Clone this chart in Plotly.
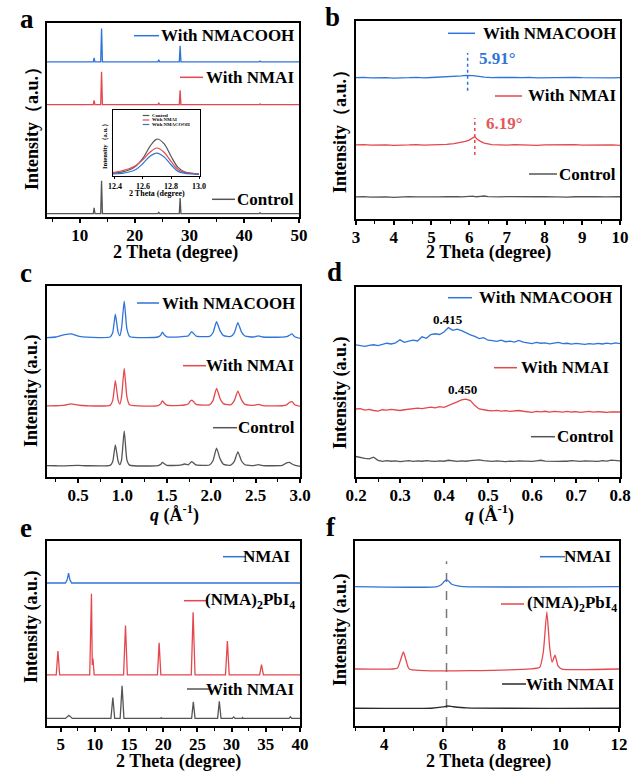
import plotly.graph_objects as go

W, H = 644, 773
SERIF = "Liberation Serif"
BLUE = "#2f74d9"
RED = "#e5474d"
GRAY = "#555555"
BLACK = "#2a2a2a"

# ---------------- panel a : XRD 4-50 deg ----------------
a_x = [4, 12.45, 12.6, 12.75, 13.8, 13.96, 14.12, 24.25, 24.4, 24.55, 28.15, 28.3, 28.45, 42.75, 42.9, 43.05, 50]
a_control = [1.7, 1.7, 4.7, 1.7, 1.7, 18.7, 1.7, 1.7, 2.6, 1.7, 1.7, 9.8, 1.7, 1.7, 2.2, 1.7, 1.7]
a_nmai = [57.9, 57.9, 60.1, 57.9, 57.9, 74.8, 57.9, 57.9, 58.9, 57.9, 57.9, 65.3, 57.9, 57.9, 58.3, 57.9, 57.9]
a_nmacooh = [80, 80, 82, 80, 80, 97.2, 80, 80, 81, 80, 80, 88.3, 80, 80, 80.4, 80, 80]

# inset of panel a
inset_x = [12.38, 12.45, 12.5, 12.55, 12.6, 12.65, 12.7, 12.75, 12.8, 12.85, 12.9, 12.95, 13.0]
inset_control = [4, 6, 9, 15, 27, 45, 56, 49, 30, 13, 6, 4, 3]
inset_nmai = [5, 8, 11, 16, 25, 36, 42.4, 36, 22, 10, 5, 4, 3]
inset_nmacooh = [3, 4, 6, 10, 19, 30, 34.8, 29, 17, 7, 4, 3, 2.5]

# ---------------- panel b : XRD 3-10 deg ----------------
b_x = [3.0, 3.2, 3.4, 3.6, 3.8, 4.0, 4.2, 4.4, 4.6, 4.8,
       5.0, 5.2, 5.4, 5.6, 5.7, 5.8, 5.9, 6.0, 6.1, 6.15,
       6.2, 6.3, 6.4, 6.5, 6.6, 6.8, 7.0, 7.2, 7.4, 7.6,
       7.8, 8.0, 8.2, 8.4, 8.6, 8.8, 9.0, 9.2, 9.4, 9.6,
       9.8, 10.0]
b_nmacooh = [75.3, 75.5, 75.2, 75.4, 75.3, 75.1, 75.4, 75.3, 75.5, 75.2,
             75.4, 75.6, 75.5, 75.8, 76.0, 76.3, 76.5, 76.6, 76.4, 76.3,
             76.1, 75.8, 75.6, 75.5, 75.3, 75.4, 75.2, 75.4, 75.3, 75.5,
             75.2, 75.3, 75.4, 75.2, 75.3, 75.5, 75.3, 75.2, 75.4, 75.3,
             75.2, 75.3]
b_nmai = [39.7, 39.9, 39.6, 39.8, 39.7, 39.5, 39.8, 39.7, 39.9, 39.6,
          39.8, 39.8, 40.0, 40.4, 40.7, 41.1, 41.6, 42.3, 43.3, 44.1,
          43.0, 41.6, 40.7, 40.2, 39.9, 39.8, 39.6, 39.9, 39.7, 39.8,
          39.5, 39.7, 39.8, 39.6, 39.7, 39.9, 39.6, 39.7, 39.8, 39.6,
          39.7, 39.5]
b_control = [12.2, 12.4, 12.1, 12.3, 12.2, 12.0, 12.3, 12.4, 12.2, 12.1,
             12.3, 12.2, 12.4, 12.5, 12.3, 12.2, 12.4, 12.3, 12.6, 12.4,
             12.3, 12.5, 12.7, 12.4, 12.3, 12.2, 12.4, 12.3, 12.5, 12.2,
             12.3, 12.4, 12.2, 12.3, 12.1, 12.3, 12.4, 12.2, 12.3, 12.2,
             12.4, 12.3]
b_mark_x = [5.96, 6.15]
b_mark_lo = [68.4, 34.4]
b_mark_hi = [88.4, 54.0]
b_mark_text = ["5.91°", "6.19°"]

# ---------------- panel c : GIWAXS q 0.15-3.0 ----------------
c_x = [0.15, 0.25, 0.35, 0.42, 0.5, 0.6, 0.86, 0.89, 0.92, 0.95,
       0.97, 0.99, 1.02, 1.05, 1.08, 1.4, 1.43, 1.45, 1.47, 1.5,
       1.65, 1.7, 1.74, 1.76, 1.78, 1.80, 1.83, 1.98, 2.02, 2.06,
       2.10, 2.14, 2.22, 2.26, 2.30, 2.34, 2.38, 2.48, 2.53, 2.58,
       2.8, 2.85, 2.88, 2.91, 2.94, 3.0]
c_nmacooh = [73.0, 73.3, 74.5, 74.9, 73.8, 73.2, 73.3, 75.5, 85.2, 76.0,
             74.0, 78.0, 92.1, 77.5, 73.6, 73.3, 74.2, 75.8, 74.5, 73.4,
             73.4, 73.6, 73.8, 75.0, 76.1, 75.2, 73.8, 73.6, 75.5, 81.3,
             76.5, 74.0, 73.6, 75.5, 80.8, 76.0, 73.8, 73.3, 73.9, 73.3,
             73.2, 73.5, 74.2, 74.9, 73.4, 72.6]
c_nmai = [37.2, 37.3, 37.6, 38.3, 37.6, 37.3, 37.5, 40.0, 50.4, 40.5,
          38.2, 42.0, 56.9, 42.0, 37.8, 37.4, 38.3, 39.8, 38.8, 37.6,
          37.5, 37.7, 38.2, 39.5, 40.3, 39.5, 38.0, 37.8, 40.0, 46.4,
          41.0, 38.3, 37.8, 40.0, 45.0, 40.5, 38.0, 37.5, 38.0, 37.4,
          37.3, 37.8, 39.0, 39.5, 37.8, 37.0]
c_control = [6.0, 5.9, 5.8, 6.0, 6.1, 5.9, 6.1, 8.0, 16.8, 8.5,
             6.5, 9.0, 24.2, 9.0, 6.2, 6.0, 6.6, 7.6, 7.0, 6.1,
             6.2, 6.8, 6.4, 7.2, 8.0, 7.4, 6.3, 6.3, 8.5, 15.1,
             9.5, 6.6, 6.2, 8.2, 13.2, 8.5, 6.4, 6.0, 6.5, 6.0,
             6.1, 7.4, 7.6, 6.8, 6.2, 5.5]

# ---------------- panel d : low q 0.2-0.8 ----------------
d_x = [0.20, 0.21, 0.22, 0.23, 0.24, 0.25, 0.26, 0.27, 0.28, 0.29,
       0.30, 0.31, 0.32, 0.33, 0.34, 0.35, 0.36, 0.37, 0.38, 0.39,
       0.40, 0.41, 0.42, 0.43, 0.44, 0.45, 0.46, 0.47, 0.48, 0.49,
       0.50, 0.51, 0.52, 0.53, 0.54, 0.55, 0.56, 0.57, 0.58, 0.59,
       0.60, 0.61, 0.62, 0.63, 0.64, 0.65, 0.66, 0.67, 0.68, 0.69,
       0.70, 0.71, 0.72, 0.73, 0.74, 0.75, 0.76, 0.77, 0.78, 0.79,
       0.80]
d_nmacooh = [69.5, 69.0, 68.8, 69.3, 69.6, 69.2, 69.8, 70.4, 70.0, 70.6,
             72.2, 70.9, 71.5, 72.0, 71.6, 73.8, 73.0, 75.0, 75.4, 75.0,
             76.3, 78.6, 77.2, 77.8, 77.0, 75.8, 74.8, 74.0, 72.8, 73.3,
             72.0, 71.8, 71.4, 72.0, 71.2, 71.5, 71.0, 71.9, 71.0, 70.6,
             70.2, 70.8, 70.4, 70.6, 70.1, 70.5, 70.8, 70.2, 70.4, 69.9,
             70.3, 70.1, 69.8, 70.2, 69.9, 70.3, 70.0, 70.5, 70.1, 70.6,
             70.2]
d_nmai = [35.8, 36.0, 35.2, 35.6, 35.0, 34.7, 35.4, 35.2, 35.6, 35.3,
          35.0, 35.4, 35.6, 35.9, 36.2, 36.0, 36.5, 36.8, 36.4, 37.0,
          36.7, 37.6, 38.3, 39.5, 40.6, 41.0, 40.2, 37.6, 35.8, 35.2,
          35.0, 34.8, 35.1, 34.7, 34.9, 34.5, 34.8, 35.0, 34.6, 34.3,
          34.0, 34.5, 34.3, 34.6, 34.2, 34.5, 34.4, 34.1, 34.5, 34.2,
          34.4, 34.0, 34.3, 34.5, 34.1, 34.4, 34.2, 34.0, 34.3, 34.1,
          34.2]
d_control = [10.8, 10.2, 9.8, 9.5, 10.4, 8.8, 8.2, 8.6, 8.3, 8.5,
             8.1, 8.4, 8.6, 8.2, 8.5, 8.3, 8.6, 8.4, 8.2, 8.5,
             8.3, 8.8, 8.4, 8.2, 8.5, 8.3, 8.6, 8.7, 9.0, 8.6,
             8.4, 8.2, 8.5, 8.3, 8.1, 8.4, 8.2, 8.5, 8.3, 8.4,
             8.2, 8.5, 8.8, 8.4, 8.3, 8.5, 8.2, 8.4, 8.3, 8.6,
             8.4, 8.2, 8.5, 8.3, 8.4, 8.2, 8.6, 8.4, 8.9, 8.6,
             8.5]
d_peak_q = [0.415, 0.450]

# ---------------- panel e : XRD 3-40 deg ----------------
e_nmai_x = [3, 5.7, 5.95, 6.15, 6.35, 6.6, 40]
e_nmai_y = [77.3, 77.3, 79.0, 82.6, 79.0, 77.3, 77.3]
e_pbi_x = [3, 4.35, 4.6, 4.85, 9.25, 9.5, 9.62, 9.72, 9.9, 14.2, 14.48, 14.75, 19.15, 19.4, 19.65,
           24.1, 24.37, 24.65, 29.1, 29.38, 29.65, 34.1, 34.37, 34.65, 40]
e_pbi_y = [27.6, 27.6, 40.5, 27.6, 27.6, 71.5, 33.0, 36.4, 27.6, 27.6, 54.3, 27.6, 27.6, 45.0, 27.6,
           27.6, 61.5, 27.6, 27.6, 45.9, 27.6, 27.6, 33.2, 27.6, 27.6]
e_film_x = [3, 5.7, 6.2, 6.7, 12.35, 12.63, 12.9, 13.7, 13.98, 14.25, 19.6, 19.7, 19.8, 24.15, 24.4, 24.65,
            27.95, 28.2, 28.45, 30.1, 30.3, 30.5, 31.5, 31.6, 31.7, 35.0, 35.1, 35.2, 38.4, 38.6, 38.8, 40]
e_film_y = [4.1, 4.1, 5.8, 4.1, 4.1, 15.4, 4.1, 4.1, 21.7, 4.1, 4.1, 4.5, 4.1, 4.1, 13.1, 4.1,
            4.1, 13.3, 4.1, 4.1, 4.9, 4.1, 4.1, 4.6, 4.1, 4.1, 4.5, 4.1, 4.1, 5.0, 4.1, 4.1]

# ---------------- panel f : XRD 3-12 deg ----------------
f_nmai_x = [3, 5.8, 5.95, 6.05, 6.12, 6.2, 6.3, 6.5, 6.7, 12]
f_nmai_y = [75.3, 75.4, 76.5, 78.3, 79.0, 78.2, 76.6, 75.7, 75.3, 75.3]
f_pbi_x = [3, 4.3, 4.45, 4.55, 4.65, 4.75, 4.85, 9.0, 9.3, 9.42, 9.54, 9.64, 9.72, 9.82, 9.92, 10.05, 12]
f_pbi_y = [30.8, 30.8, 31.3, 35.5, 40.0, 35.0, 30.8, 30.9, 31.8, 40.0, 61.7, 42.0, 34.5, 38.3, 32.5, 30.8, 30.8]
f_film_x = [3, 5.6, 6.0, 6.15, 6.35, 6.8, 12]
f_film_y = [9.6, 9.6, 10.3, 10.8, 10.4, 9.8, 9.6]
f_ref_x = 6.12

# =====================================================================
def px(x):
    return x / W


def py(y):
    return 1 - y / H


fig = go.Figure()


def add_line(x, y, ax, color, width=1.3, shape="linear", smoothing=1.0):
    n = "" if ax == 1 else str(ax)
    fig.add_trace(go.Scatter(x=x, y=y, xaxis="x" + n, yaxis="y" + n, mode="lines",
                             line=dict(color=color, width=width, shape=shape, smoothing=smoothing),
                             showlegend=False, hoverinfo="skip"))


add_line(a_x, a_control, 1, GRAY)
add_line(a_x, a_nmai, 1, RED)
add_line(a_x, a_nmacooh, 1, BLUE)

add_line(b_x, b_control, 2, GRAY)
add_line(b_x, b_nmai, 2, RED)
add_line(b_x, b_nmacooh, 2, BLUE)
for xm, lo, hi, col in zip(b_mark_x, b_mark_lo, b_mark_hi, [BLUE, RED]):
    fig.add_trace(go.Scatter(x=[xm, xm], y=[lo, hi], xaxis="x2", yaxis="y2", mode="lines",
                             line=dict(color=col, width=1.5, dash="dot"), showlegend=False,
                             hoverinfo="skip"))

add_line(c_x, c_control, 3, GRAY, shape="spline", smoothing=0.5)
add_line(c_x, c_nmai, 3, RED, shape="spline", smoothing=0.5)
add_line(c_x, c_nmacooh, 3, BLUE, shape="spline", smoothing=0.5)

add_line(d_x, d_control, 4, GRAY)
add_line(d_x, d_nmai, 4, RED)
add_line(d_x, d_nmacooh, 4, BLUE)

add_line(e_film_x, e_film_y, 5, GRAY)
add_line(e_pbi_x, e_pbi_y, 5, RED)
add_line(e_nmai_x, e_nmai_y, 5, BLUE)

fig.add_trace(go.Scatter(x=[f_ref_x, f_ref_x], y=[0, 89], xaxis="x6", yaxis="y6", mode="lines",
                         line=dict(color="#777777", width=1.5, dash="dash"), showlegend=False,
                         hoverinfo="skip"))
add_line(f_film_x, f_film_y, 6, BLACK, shape="spline", smoothing=0.6)
add_line(f_pbi_x, f_pbi_y, 6, RED, shape="spline", smoothing=0.5)
add_line(f_nmai_x, f_nmai_y, 6, BLUE, shape="spline", smoothing=0.6)

add_line(inset_x, inset_control, 7, GRAY, width=1.2, shape="spline")
add_line(inset_x, inset_nmai, 7, RED, width=1.2, shape="spline")
add_line(inset_x, inset_nmacooh, 7, BLUE, width=1.2, shape="spline")

# ---------------- axes ----------------
boxes = {
    1: (47, 299, 23, 217),
    2: (356, 620, 21, 219),
    3: (47, 300, 286, 477),
    4: (356, 620, 287, 477),
    5: (47, 300, 541, 726),
    6: (355, 619, 541, 726),
    7: (113, 200, 110, 176),
}
yranges = {1: [0, 100], 2: [0.53, 105.3], 3: [0, 100], 4: [0, 100], 5: [0, 100], 6: [0, 100],
           7: [0, 100]}
xspec = {
    1: dict(range=[4, 50], dtick=10, tick0=0, minor=5, fmt=""),
    2: dict(range=[3, 10], dtick=1, tick0=0, minor=0.5, fmt=""),
    3: dict(range=[0.15, 3.0], dtick=0.5, tick0=0, minor=0.25, fmt=".1f"),
    4: dict(range=[0.2, 0.8], dtick=0.1, tick0=0, minor=0.05, fmt=".1f"),
    5: dict(range=[3, 40], dtick=5, tick0=0, minor=2.5, fmt=""),
    6: dict(range=[3, 12], dtick=2, tick0=0, minor=1, fmt=""),
    7: dict(range=[12.386, 13.007], dtick=0.2, tick0=12.4, minor=None, fmt=".1f"),
}
lay = {}
for k, (x0, x1, y0, y1) in boxes.items():
    n = "" if k == 1 else str(k)
    s = xspec[k]
    inset = (k == 7)
    xa = dict(domain=[px(x0), px(x1)], range=s["range"], anchor="y" + n, automargin=False,
              showline=True, linecolor="black", linewidth=1.0 if inset else 1.6, mirror=True,
              ticks="outside", ticklen=2 if inset else 4, tickwidth=1.0 if inset else 1.5,
              tickcolor="black", dtick=s["dtick"], tick0=s["tick0"], tickformat=s["fmt"],
              ticklabelstandoff=0 if inset else -2,
              showgrid=False, zeroline=False,
              tickfont=dict(family=SERIF, size=8 if inset else 17, color="black", weight="bold"))
    if s["minor"]:
        xa["minor"] = dict(ticks="outside", ticklen=3, tickwidth=1.2, dtick=s["minor"],
                           tickcolor="black", showgrid=False)
    ya = dict(domain=[py(y1), py(y0)], range=yranges[k], anchor="x" + n, automargin=False,
              showline=True, linecolor="black", linewidth=1.0 if inset else 1.6, mirror=True,
              ticks="", showticklabels=False, showgrid=False, zeroline=False)
    lay["xaxis" + n] = xa
    lay["yaxis" + n] = ya

fig.update_layout(**lay)

# ---------------- text ----------------
ann = []


def text(x, y, t, size, color="black", xanchor="center", angle=0, ref=None, yanchor="middle"):
    d = dict(text=t, showarrow=False, xanchor=xanchor, yanchor=yanchor, textangle=angle,
             font=dict(family=SERIF, size=size, color=color, weight="bold"))
    if ref is None:
        d.update(x=px(x), y=py(y), xref="paper", yref="paper")
    else:
        d.update(x=x, y=y, xref="x" + ref, yref="y" + ref)
    ann.append(d)


shapes = []


def seg(x0, x1, y, color, width=1.5):
    shapes.append(dict(type="line", xref="paper", yref="paper", x0=px(x0), x1=px(x1),
                       y0=py(y), y1=py(y), line=dict(color=color, width=width)))


# panel letters
for lab, x, y in [("a", 27, 19), ("b", 333, 17), ("c", 26, 273), ("d", 334, 272),
                  ("e", 26, 528), ("f", 331, 527)]:
    text(x, y, lab, 27)

# y titles
for t, x, y in [("Intensity（a.u.）", 32, 124), ("Intensity（a.u.）", 340, 127),
                ("Intensity (a.u.)", 32, 390), ("Intensity (a.u.)", 340, 393),
                ("Intensity (a.u.)", 31, 627), ("Intensity (a.u.)", 340, 630)]:
    text(x, y, t, 18, angle=-90)

# x titles
for t, x, y in [("2 Theta (degree)", 175, 253), ("2 Theta (degree)", 488, 253),
                ("<i>q</i> (Å<sup>-1</sup>)", 174, 514), ("<i>q</i> (Å<sup>-1</sup>)", 489, 514),
                ("2 Theta (degree)", 178, 761), ("2 Theta (degree)", 488, 761)]:
    text(x, y, t, 18)

# legends (line segment + label)
legends = [
    # panel a
    (134, 159, 296, 35.7, BLUE, "With NMACOOH"),
    (180, 203, 296, 77.3, RED, "With NMAI"),
    (212, 235, 296, 199.3, GRAY, "Control"),
    # panel b
    (448, 475, 618, 33.3, BLUE, "With NMACOOH"),
    (495, 522, 618, 96, RED, "With NMAI"),
    (529, 557, 618, 174, GRAY, "Control"),
    # panel c
    (137, 159, 297, 303, BLUE, "With NMACOOH"),
    (183, 206, 296, 365.7, RED, "With NMAI"),
    (213, 237, 297, 427.7, GRAY, "Control"),
    # panel d
    (448, 472, 614, 297.7, BLUE, "With NMACOOH"),
    (494, 517, 611, 367.7, RED, "With NMAI"),
    (531, 555, 616, 436.7, GRAY, "Control"),
    # panel e
    (223, 246, 293, 556.7, BLUE, "NMAI"),
    (184, 207, 297, 600.7, RED, "(NMA)<sub>2</sub>PbI<sub>4</sub>"),
    (187, 210, 296, 689, GRAY, "With NMAI"),
    # panel f
    (540, 565, 614, 556.7, BLUE, "NMAI"),
    (501, 524, 619, 604, RED, "(NMA)<sub>2</sub>PbI<sub>4</sub>"),
    (502, 526, 616, 684, BLACK, "With NMAI"),
]
for x0, x1, xr, y, col, t in legends:
    seg(x0, x1, y, col)
    text(xr, y, t, 17, xanchor="right")

# peak labels in b and d
text(6.76, 85.5, b_mark_text[0], 17, color=BLUE, ref="2")
text(6.93, 51.2, b_mark_text[1], 17, color="#e05a5a", ref="2")
text(0.409, 83, f"{d_peak_q[0]:.3f}", 13, ref="4")
text(0.441, 45.8, f"{d_peak_q[1]:.3f}", 13, ref="4")

# inset texts
text(105, 145, "Intensity（a.u.）", 6.5, angle=-90)
text(157, 193, "2 Theta (degree)", 8)
for y, col, t in [(115.5, GRAY, "Control"), (120, RED, "With NMAI"), (124.5, BLUE, "With NMACOOH")]:
    seg(142.7, 149.3, y, col, width=1.2)
    text(150, y, t, 4.8, xanchor="left")

fig.update_layout(template="none", width=W, height=H, margin=dict(l=0, r=0, t=0, b=0, pad=0),
                  paper_bgcolor="white", plot_bgcolor="rgba(0,0,0,0)",
                  font=dict(family=SERIF, color="black", weight="bold"),
                  annotations=ann, shapes=shapes, showlegend=False)

fig.write_html("out.html", config={"displayModeBar": False},
               post_script="document.body.style.margin='0px';")
